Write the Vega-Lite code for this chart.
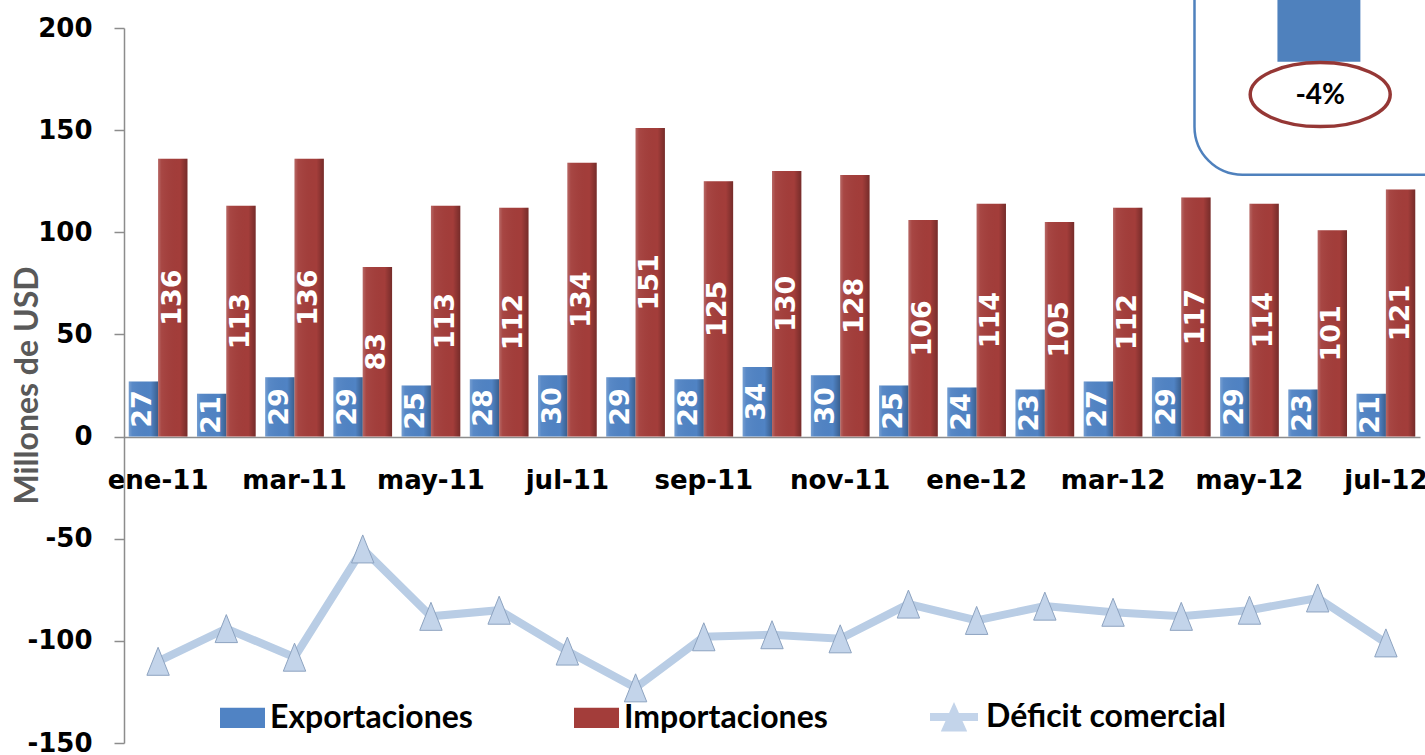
{
  "$schema": "https://vega.github.io/schema/vega-lite/v6.json",
  "width": 1296,
  "height": 715,
  "autosize": "none",
  "padding": {"left": 124, "top": 28, "right": 5, "bottom": 12},
  "background": "white",
  "config": {"view": {"stroke": null}, "font": "DejaVu Sans"},
  "datasets": {
    "comercio": [
      {"mes": "ene-11", "Exportaciones": 27, "Importaciones": 136, "Deficit": -110},
      {"mes": "feb-11", "Exportaciones": 21, "Importaciones": 113, "Deficit": -94},
      {"mes": "mar-11", "Exportaciones": 29, "Importaciones": 136, "Deficit": -108},
      {"mes": "abr-11", "Exportaciones": 29, "Importaciones": 83, "Deficit": -55},
      {"mes": "may-11", "Exportaciones": 25, "Importaciones": 113, "Deficit": -88},
      {"mes": "jun-11", "Exportaciones": 28, "Importaciones": 112, "Deficit": -85},
      {"mes": "jul-11", "Exportaciones": 30, "Importaciones": 134, "Deficit": -105},
      {"mes": "ago-11", "Exportaciones": 29, "Importaciones": 151, "Deficit": -123},
      {"mes": "sep-11", "Exportaciones": 28, "Importaciones": 125, "Deficit": -98},
      {"mes": "oct-11", "Exportaciones": 34, "Importaciones": 130, "Deficit": -97},
      {"mes": "nov-11", "Exportaciones": 30, "Importaciones": 128, "Deficit": -99},
      {"mes": "dic-11", "Exportaciones": 25, "Importaciones": 106, "Deficit": -82},
      {"mes": "ene-12", "Exportaciones": 24, "Importaciones": 114, "Deficit": -90},
      {"mes": "feb-12", "Exportaciones": 23, "Importaciones": 105, "Deficit": -83},
      {"mes": "mar-12", "Exportaciones": 27, "Importaciones": 112, "Deficit": -86},
      {"mes": "abr-12", "Exportaciones": 29, "Importaciones": 117, "Deficit": -88},
      {"mes": "may-12", "Exportaciones": 29, "Importaciones": 114, "Deficit": -85},
      {"mes": "jun-12", "Exportaciones": 23, "Importaciones": 101, "Deficit": -79},
      {"mes": "jul-12", "Exportaciones": 21, "Importaciones": 121, "Deficit": -101}
    ],
    "recuadro": [{"etiqueta": "-4%", "variacion": -4}]
  },
  "resolve": {"scale": {"x": "independent", "y": "independent"}},
  "layer": [
    {
      "data": {"name": "comercio"},
      "resolve": {"scale": {"y": "independent"}},
      "layer": [
        {
          "transform": [{"fold": ["Exportaciones", "Importaciones"], "as": ["serie", "valor"]}],
          "mark": {"type": "bar"},
          "encoding": {
            "x": {
              "field": "mes", "type": "nominal", "sort": null,
              "scale": {"paddingInner": 0.14, "paddingOuter": 0.07},
              "axis": {
                "title": null, "orient": "bottom", "offset": -306,
                "values": ["ene-11", "mar-11", "may-11", "jul-11", "sep-11", "nov-11", "ene-12", "mar-12", "may-12", "jul-12"],
                "labelAngle": 0, "ticks": false, "labelPadding": 30,
                "labelFont": "DejaVu Sans", "labelFontSize": 26, "labelFontWeight": "bold", "labelColor": "#000000",
                "domainColor": "#8C8C8C", "domainWidth": 1.5, "grid": false, "labelOverlap": false
              }
            },
            "xOffset": {"field": "serie", "type": "nominal", "sort": ["Exportaciones", "Importaciones"], "scale": {"paddingInner": 0}},
            "y": {
              "field": "valor", "type": "quantitative", "title": "Millones de USD",
              "scale": {"domain": [-150, 200], "nice": false},
              "axis": {
                "values": [-150, -100, -50, 0, 50, 100, 150, 200], "grid": false,
                "labelExpr": "'' + datum.value",
                "tickSize": 10, "tickColor": "#8C8C8C", "tickWidth": 1.5,
                "domainColor": "#8C8C8C", "domainWidth": 1.5,
                "labelPadding": 22, "labelFont": "DejaVu Sans", "labelFontSize": 26, "labelFontWeight": "bold", "labelColor": "#000000",
                "titleFont": "Lato", "titleFontSize": 32, "titleFontWeight": "bold", "titleColor": "#595959",
                "titleX": -97, "titleY": 357, "titleAngle": -90, "titleAlign": "center", "titleBaseline": "middle"
              }
            },
            "color": {
              "field": "serie", "type": "nominal",
              "scale": {"domain": ["Exportaciones", "Importaciones"], "range": ["#5083C4", "#A33D3A"]},
              "legend": {
                "title": null, "orient": "none", "legendX": 96, "legendY": 667, "direction": "horizontal",
                "symbolType": "M-1,-0.45L1,-0.45L1,0.45L-1,0.45Z", "symbolSize": 2025, "symbolStrokeWidth": 0,
                "labelFont": "Lato", "labelFontSize": 32, "labelFontWeight": "bold", "labelColor": "#000000",
                "labelOffset": 5, "labelLimit": 400, "columnPadding": 101, "padding": 0
              }
            }
          }
        },
        {
          "transform": [{"fold": ["Exportaciones", "Importaciones"], "as": ["serie", "valor"]}],
          "mark": {
            "type": "bar",
            "fill": {
              "gradient": "linear", "x1": 0, "x2": 1, "y1": 0, "y2": 0,
              "stops": [
                {"offset": 0, "color": "rgba(255,255,255,0.22)"},
                {"offset": 0.12, "color": "rgba(255,255,255,0.05)"},
                {"offset": 0.75, "color": "rgba(0,0,0,0.0)"},
                {"offset": 1, "color": "rgba(0,0,0,0.28)"}
              ]
            }
          },
          "encoding": {
            "x": {"field": "mes", "type": "nominal", "sort": null},
            "xOffset": {"field": "serie", "type": "nominal", "sort": ["Exportaciones", "Importaciones"]},
            "y": {"field": "valor", "type": "quantitative", "scale": {"domain": [-150, 200], "nice": false}, "axis": null}
          }
        },
        {
          "transform": [{"fold": ["Exportaciones", "Importaciones"], "as": ["serie", "valor"]}],
          "mark": {"type": "text", "angle": 270, "align": "center", "baseline": "middle", "font": "DejaVu Sans", "fontSize": 27, "fontWeight": "bold", "color": "#FFFFFF"},
          "encoding": {
            "x": {"field": "mes", "type": "nominal", "sort": null},
            "xOffset": {"field": "serie", "type": "nominal", "sort": ["Exportaciones", "Importaciones"]},
            "y": {"field": "valor", "type": "quantitative", "scale": {"domain": [-300, 400], "nice": false}, "axis": null},
            "text": {"field": "valor", "type": "quantitative"}
          }
        },
        {
          "mark": {"type": "line", "color": "#B9CDE5", "strokeWidth": 8},
          "encoding": {
            "x": {"field": "mes", "type": "nominal", "sort": null},
            "y": {"field": "Deficit", "type": "quantitative", "scale": {"domain": [-150, 200], "nice": false}, "axis": null}
          }
        },
        {
          "mark": {"type": "point", "shape": "M0,-1L0.8,1L-0.8,1Z", "filled": true, "size": 784, "stroke": "#8DA3C0", "strokeWidth": 1, "opacity": 1},
          "encoding": {
            "x": {"field": "mes", "type": "nominal", "sort": null},
            "y": {"field": "Deficit", "type": "quantitative", "scale": {"domain": [-150, 200], "nice": false}, "axis": null},
            "fill": {
              "datum": "Déficit comercial", "type": "nominal",
              "scale": {"range": ["#C3D4EA"]},
              "legend": {
                "title": null, "orient": "none", "legendX": 806, "legendY": 665,
                "symbolType": "M-1,-0.17L1,-0.17L1,0.17L-1,0.17Z M-0.55,0.6L0,-0.62L0.55,0.6Z",
                "symbolSize": 2304, "symbolStrokeWidth": 0,
                "labelFont": "Lato", "labelFontSize": 32, "labelFontWeight": "bold", "labelColor": "#000000",
                "labelOffset": 8, "labelLimit": 400, "padding": 0
              }
            }
          }
        }
      ]
    },
    {
      "data": {"name": "recuadro"},
      "layer": [
        {
          "mark": {"type": "rect", "cornerRadius": 48, "fill": "#FFFFFF", "stroke": "#4F81BD", "strokeWidth": 2.5},
          "encoding": {
            "x": {"datum": 82.6, "type": "quantitative", "scale": {"domain": [0, 100]}, "axis": null},
            "x2": {"datum": 106},
            "y": {"datum": 128.2, "type": "quantitative", "scale": {"domain": [-150, 200], "nice": false}, "axis": null},
            "y2": {"datum": 240}
          }
        },
        {
          "mark": {"type": "rect", "fill": "#4F81BD"},
          "encoding": {
            "x": {"datum": 89, "type": "quantitative"},
            "x2": {"datum": 95.4},
            "y": {"datum": 183.5, "type": "quantitative"},
            "y2": {"datum": 240}
          }
        },
        {
          "mark": {"type": "point", "shape": "M-1,0A1,0.457,0,1,0,1,0A1,0.457,0,1,0,-1,0Z", "size": 19600, "filled": false, "stroke": "#953735", "strokeWidth": 3.5, "opacity": 1},
          "encoding": {
            "x": {"datum": 92.3, "type": "quantitative"},
            "y": {"datum": 167.4, "type": "quantitative"}
          }
        },
        {
          "mark": {"type": "text", "font": "Lato", "fontSize": 28, "fontWeight": "bold", "color": "#000000", "align": "center", "baseline": "middle"},
          "encoding": {
            "x": {"datum": 92.3, "type": "quantitative"},
            "y": {"datum": 166.8, "type": "quantitative"},
            "text": {"field": "etiqueta"}
          }
        }
      ]
    }
  ]
}
